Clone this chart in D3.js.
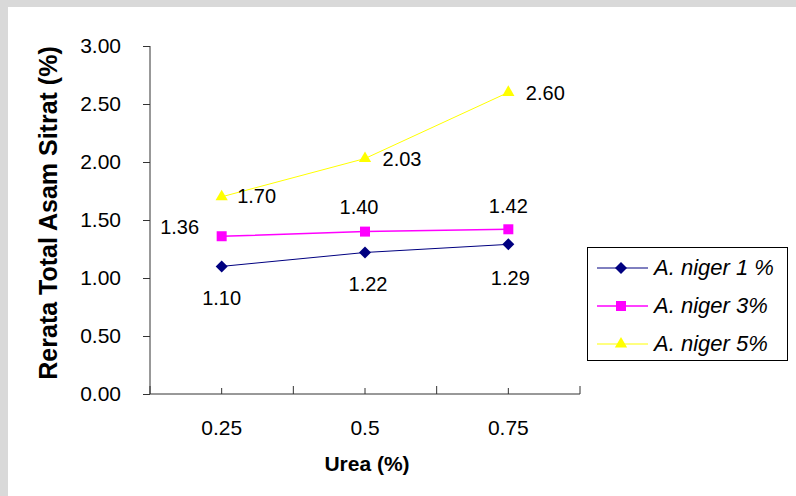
<!DOCTYPE html>
<html><head><meta charset="utf-8">
<script src="https://cdn.jsdelivr.net/npm/d3@7"></script>
<style>body{margin:0;background:#fff}svg{display:block;font-family:Arial,"Liberation Sans",sans-serif}</style>
</head><body><svg id="c" width="796" height="496"></svg>
<script>
const categories = ["0.25", "0.5", "0.75"];
const seriesNames = ["A. niger 1 %", "A. niger 3%", "A. niger 5%"];
const niger1 = [1.10, 1.22, 1.29];
const niger3 = [1.36, 1.40, 1.42];
const niger5 = [1.70, 2.03, 2.60];
const yTicks = [0, 0.5, 1, 1.5, 2, 2.5, 3];

const svg = d3.select("#c");
// background frame
svg.append("rect").attr("x",0).attr("y",0).attr("width",796).attr("height",7).attr("fill","#d9d9d9");
svg.append("rect").attr("x",0).attr("y",0).attr("width",8).attr("height",496).attr("fill","#d9d9d9");

const L=150, R=580, T=46, B=394;
const x = d3.scaleBand().domain(categories).range([L,R]);
const y = d3.scaleLinear().domain([0,3]).range([B,T]);
const cx = c => x(c)+x.bandwidth()/2;
const FONT = "Arial, 'Liberation Sans', sans-serif";

// y axis
const ya = svg.append("g").attr("transform",`translate(${L},0)`)
  .call(d3.axisLeft(y).tickValues(yTicks).tickFormat(d3.format(".2f")).tickSize(7).tickPadding(22));
ya.select(".domain").attr("stroke","#333").attr("d",`M0,${T}V${B}`);
ya.selectAll(".tick line").attr("stroke","#333");
ya.selectAll(".tick text").attr("font-size",21).attr("fill","#000").attr("font-family",FONT);

// x axis
const xa = svg.append("g").attr("transform",`translate(0,${B})`);
xa.append("line").attr("x1",L).attr("x2",R).attr("y1",0).attr("y2",0).attr("stroke","#333");
const bounds = categories.map(c=>x(c)).concat([R]);
xa.selectAll("line.b").data(bounds).enter().append("line").attr("class","b")
  .attr("x1",d=>d).attr("x2",d=>d).attr("y1",0).attr("y2",-8).attr("stroke","#333");
xa.selectAll("line.c").data(categories).enter().append("line").attr("class","c")
  .attr("x1",d=>cx(d)).attr("x2",d=>cx(d)).attr("y1",0).attr("y2",-6).attr("stroke","#333");
xa.selectAll("text").data(categories).enter().append("text")
  .attr("x",d=>cx(d)).attr("y",41).attr("text-anchor","middle").attr("font-size",21).text(d=>d);

// titles
svg.append("text").attr("x",367).attr("y",471).attr("text-anchor","middle")
  .attr("font-size",21).attr("font-weight","bold").text("Urea (%)");
svg.append("text").attr("transform","translate(57,213) rotate(-90)").attr("text-anchor","middle")
  .attr("font-size",25).attr("font-weight","bold").text("Rerata Total Asam Sitrat (%)");

const diamond = {draw(ctx,size){const r=Math.sqrt(size/2);ctx.moveTo(0,-r);ctx.lineTo(r,0);ctx.lineTo(0,r);ctx.lineTo(-r,0);ctx.closePath();}};
const series = [
  {name:seriesNames[0], vals:niger1, color:"#000080", lw:1, sym:diamond, size:72, labels:[[0,39],[3,39],[2,41]]},
  {name:seriesNames[1], vals:niger3, color:"#ff00ff", lw:1.5, sym:d3.symbolSquare, size:100, labels:[[-42,-2],[-6,-18],[0,-16]]},
  {name:seriesNames[2], vals:niger5, color:"#ffff00", lw:1, sym:d3.symbolTriangle, size:65, labels:[[35,6],[37,7.5],[37,7.5]]}
];
const line = d3.line().x((d,i)=>cx(categories[i])).y(d=>y(d));
series.forEach(s=>{
  svg.append("path").attr("d",line(s.vals)).attr("fill","none").attr("stroke",s.color).attr("stroke-width",s.lw);
  svg.selectAll(null).data(s.vals).enter().append("path")
    .attr("d",d3.symbol().type(s.sym).size(s.size))
    .attr("transform",(d,i)=>`translate(${cx(categories[i])},${y(d)})`).attr("fill",s.color);
  svg.selectAll(null).data(s.vals).enter().append("text")
    .attr("x",(d,i)=>cx(categories[i])+s.labels[i][0]).attr("y",(d,i)=>y(d)+s.labels[i][1])
    .attr("text-anchor","middle").attr("font-size",20).text(d=>d.toFixed(2));
});

// legend
const lg = svg.append("g");
lg.append("rect").attr("x",587.5).attr("y",247.5).attr("width",200).attr("height",113).attr("fill","#fff").attr("stroke","#000");
series.forEach((s,i)=>{
  const yy = 268 + i*38;
  lg.append("line").attr("x1",597).attr("x2",648).attr("y1",yy).attr("y2",yy).attr("stroke",s.color).attr("stroke-width",s.lw);
  lg.append("path").attr("d",d3.symbol().type(s.sym).size(s.size)).attr("transform",`translate(621,${yy})`).attr("fill",s.color);
  lg.append("text").attr("x",654).attr("y",yy+7).attr("font-size",22).attr("font-style","italic").text(s.name);
});
</script></body></html>
